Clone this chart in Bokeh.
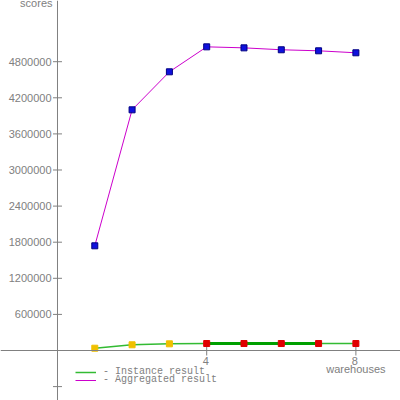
import math
from bokeh.plotting import figure
from bokeh.models import Span, Range1d, Legend, LegendItem
from bokeh.core.properties import value
from bokeh.embed import file_html
from bokeh.resources import INLINE

# ---- data ----
warehouses = [1, 2, 3, 4, 5, 6, 7, 8]
aggregated = [1740000, 4000000, 4632000, 5047000, 5030000, 4998000, 4981000, 4948000]
instance = [38000, 95000, 111000, 116000, 116000, 116000, 116000, 116000]
y_ticks = [-600000, 600000, 1200000, 1800000, 2400000, 3000000, 3600000, 4200000, 4800000]
y_tick_labels = ["", "600000", "1200000", "1800000", "2400000", "3000000", "3600000", "4200000", "4800000"]
x_ticks = [4, 8]
x_tick_labels = ["4", "8"]
x_title = "warehouses"
y_title = "scores"
legend_labels = ["- Instance result", "- Aggregated result"]

GRAY = "#808080"
y_top = 5817000

p = figure(width=400, height=400, x_range=Range1d(-1.528, 9.196), y_range=Range1d(-831000, y_top),
           output_backend="svg", toolbar_location=None, min_border=0,
           x_axis_type=None, y_axis_type=None, outline_line_color=None,
           background_fill_color="white", border_fill_color="white")

# axes crossing at origin
p.add_layout(Span(location=0, dimension="height", line_color=GRAY, line_width=1))
p.add_layout(Span(location=0, dimension="width", line_color=GRAY, line_width=1))

FONT = value("Liberation Sans")
# y ticks
p.scatter(x=[0] * len(y_ticks), y=y_ticks, marker="dash", size=9, line_color=GRAY, line_width=1)
p.text(x=[0] * len(y_ticks), y=y_ticks, text=y_tick_labels, x_offset=-6, text_align="right",
       text_baseline="middle", text_font=FONT, text_font_size="11px", text_color=GRAY)
# x ticks
p.scatter(x=x_ticks, y=[0] * len(x_ticks), marker="dash", angle=math.pi / 2, size=10,
          line_color=GRAY, line_width=1)
p.text(x=x_ticks, y=[0] * len(x_ticks), text=x_tick_labels, y_offset=10, x_offset=-1, text_align="center",
       text_baseline="middle", text_font=FONT, text_font_size="11px", text_color=GRAY)
p.text(x=[x_ticks[-1]], y=[0], text=[x_title], y_offset=18, text_align="center",
       text_baseline="middle", text_font=FONT, text_font_size="11px", text_color=GRAY)
p.text(x=[0], y=[y_top], text=[y_title], x_offset=-5, y_offset=2, text_align="right",
       text_baseline="middle", text_font=FONT, text_font_size="11px", text_color=GRAY)

# instance result
thin = p.line(warehouses, instance, line_color="#33bb33", line_width=1.5)
p.line(warehouses[3:7], instance[3:7], line_color="#00a000", line_width=3)
inst_colors = ["#f0c000" if w < 4 else "#e00000" for w in warehouses]
p.scatter(warehouses, instance, marker="square", size=6, fill_color=inst_colors,
          line_color=inst_colors, line_width=1)

# aggregated result
agg = p.line(warehouses, aggregated, line_color="#cc00cc", line_width=1)
p.scatter(warehouses, aggregated, marker="square", size=6, fill_color="#1010dd",
          line_color="#000080", line_width=1)

def make_legend(label, renderer, loc):
    return Legend(items=[LegendItem(label=label, renderers=[renderer])], location=loc,
                  glyph_width=21, glyph_height=8, label_height=8, label_standoff=7,
                  padding=0, margin=0, spacing=0, border_line_color=None,
                  background_fill_alpha=0, label_text_font="Liberation Mono",
                  label_text_font_size="10px", label_text_color=GRAY)

p.add_layout(make_legend(legend_labels[0], thin, (75, 23)))
p.add_layout(make_legend(legend_labels[1], agg, (75, 15)))

open("out.html", "w").write(file_html(p, INLINE))
